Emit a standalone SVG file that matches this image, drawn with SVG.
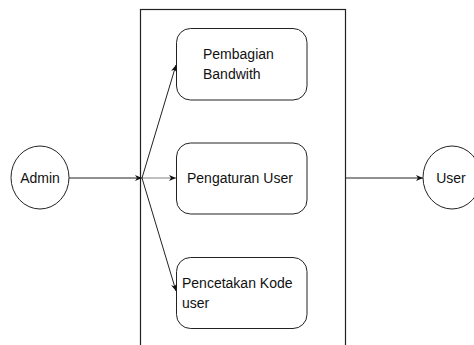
<svg xmlns="http://www.w3.org/2000/svg" width="474" height="345" viewBox="0 0 474 345">
<style>
.n{fill:#fff;stroke:#222;stroke-width:1}
.t{font-family:"Liberation Sans",Arial,sans-serif;font-size:14px;fill:#111}
.c{fill:none;stroke:#222;stroke-width:1}
</style>
<defs>
<marker id="a" markerWidth="8" markerHeight="8" refX="7" refY="4" orient="auto" markerUnits="userSpaceOnUse">
<path d="M0,1 L7,4 L0,7 L2,4 Z" fill="#111"/>
</marker>
</defs>
<rect width="474" height="345" fill="#fff"/>
<g id="system"><rect x="140.5" y="9.5" width="205" height="345" fill="none" stroke="#222" stroke-width="1.2"/></g>
<g id="admin"><ellipse class="n" cx="40" cy="177.5" rx="29" ry="31.5"/><text class="t" x="40" y="183" text-anchor="middle">Admin</text></g>
<g id="user"><ellipse class="n" cx="452" cy="177.5" rx="29" ry="31.5"/><text class="t" x="451" y="183" text-anchor="middle">User</text></g>
<g id="pembagian"><rect class="n" x="176.5" y="28.5" width="130.5" height="71.5" rx="14"/><text class="t" x="203" y="59">Pembagian</text><text class="t" x="203" y="79">Bandwith</text></g>
<g id="pengaturan"><rect class="n" x="176.5" y="143" width="130.5" height="71" rx="14"/><text class="t" x="187" y="183">Pengaturan User</text></g>
<g id="pencetakan"><rect class="n" x="176.5" y="257.5" width="130.5" height="71" rx="14"/><text class="t" x="182" y="288">Pencetakan Kode</text><text class="t" x="182" y="308">user</text></g>
<g id="connectors">
<line class="c" x1="69" y1="178" x2="142" y2="178" marker-end="url(#a)"/>
<line x1="142" y1="178" x2="176" y2="178" stroke="#aaa" stroke-width="1.5" marker-end="url(#a)"/>
<line class="c" x1="142" y1="178" x2="176" y2="65" marker-end="url(#a)"/>
<line class="c" x1="142" y1="178" x2="176" y2="291" marker-end="url(#a)"/>
<line class="c" x1="346" y1="178" x2="423" y2="178" marker-end="url(#a)"/>
</g>
</svg>
